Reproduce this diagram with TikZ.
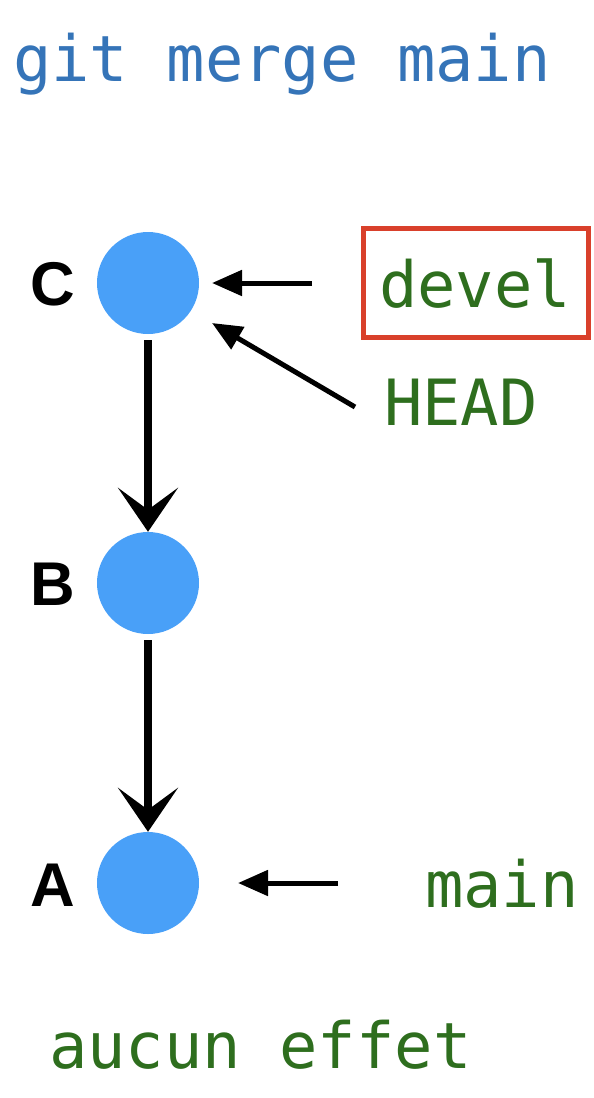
\documentclass[tikz,border=0pt]{standalone}
\usepackage{fontspec}
\setmonofont{DejaVu Sans Mono}
\newfontfamily\lblfont{Liberation Sans}
\usetikzlibrary{arrows.meta}
\definecolor{titleblue}{RGB}{53,116,184}
\definecolor{nodeblue}{RGB}{73,160,248}
\definecolor{refgreen}{RGB}{46,110,30}
\definecolor{boxred}{RGB}{217,64,43}
\begin{document}
\begin{tikzpicture}[x=1bp,y=-1bp,
  commit/.style={circle,fill=nodeblue,minimum size=102bp,inner sep=0pt},
  letter/.style={font=\lblfont\bfseries\fontsize{62}{64}\selectfont,inner sep=0pt},
  mono/.style={font=\ttfamily\fontsize{64}{68}\selectfont,inner sep=0pt,anchor=base west},
  sketch/.style={line width=8.5bp,black,
     -{Stealth[length=44bp,width=60bp,inset=22bp]},shorten <=6bp},
  ptr/.style={line width=5bp,black,-{Triangle[length=30bp,width=25bp]}}]
\useasboundingbox (0,0) rectangle (594,1098);
\node[mono,text=titleblue] (title) at (13,81) {git merge main};
\node[commit] (C) at (148,283) {};
\node[commit] (B) at (148,583) {};
\node[commit] (A) at (148,883) {};
\node[letter] (lc) at (53,284) {C};
\node[letter] (lb) at (53,584) {B};
\node[letter] (la) at (53,885) {A};
\draw[sketch] (C) -- (B);
\draw[sketch] (B) -- (A);
\node[mono,text=refgreen] (devel) at (379,307) {devel};
\node[draw=boxred,line width=5bp,minimum width=225bp,minimum height=109bp,inner sep=0pt] (box) at (475.5,282.5) {};
\node[mono,text=refgreen] (head) at (384,425) {HEAD};
\node[mono,text=refgreen] (mainlbl) at (425,907) {main};
\node[mono,text=refgreen] (effet) at (49,1068) {aucun effet};
\coordinate (dv) at (312,283);
\coordinate (hd) at (355,407);
\coordinate (mn) at (338,883);
\draw[ptr] (dv) -- (212,283);
\draw[ptr] (hd) -- (212,323);
\draw[ptr] (mn) -- (238,883);
\end{tikzpicture}
\end{document}
